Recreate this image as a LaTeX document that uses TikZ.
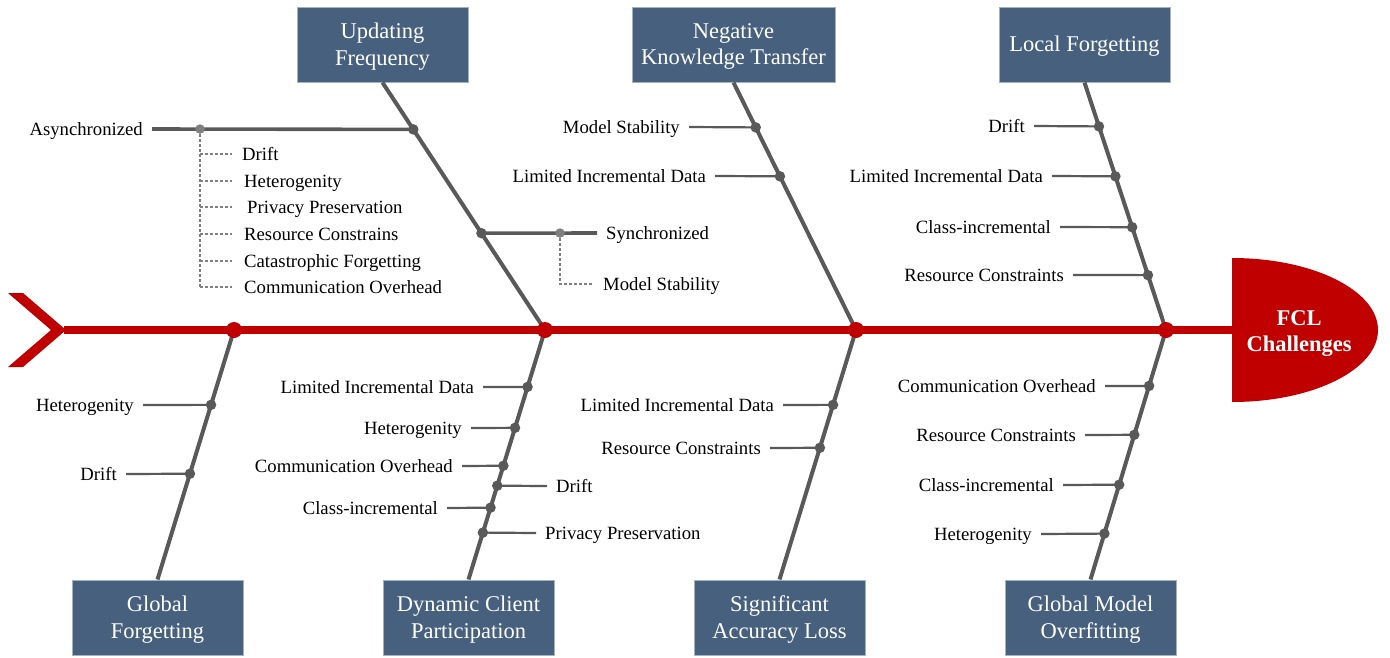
\documentclass[tikz,border=0pt]{standalone}
\usepackage{fontspec}
\setmainfont{Liberation Serif}
\usetikzlibrary{calc}
\definecolor{boxblue}{HTML}{46607E}
\definecolor{boxedge}{HTML}{A3B1C2}
\definecolor{bonegray}{HTML}{595959}
\definecolor{fclred}{HTML}{C00000}
\definecolor{lightdot}{HTML}{808080}
\tikzset{
  cat/.style={draw=boxedge, line width=1pt, fill=boxblue,
    minimum width=171pt, minimum height=75pt, inner sep=0pt,
    label={[boxtext]center:#1}},
  boxtext/.style={text=white, align=center, inner sep=0pt, yshift=-2pt,
    font=\fontsize{22.5}{26.5}\selectfont},
  bonel/.style={draw=bonegray, line width=4pt},
  twig/.style={draw=bonegray, line width=2.2pt},
  stem/.style={draw=bonegray, line width=3.6pt},
  gdot/.style={circle, fill=bonegray, inner sep=0pt, minimum size=10.5pt},
  ldot/.style={circle, fill=lightdot, inner sep=0pt, minimum size=9.5pt},
  rdot/.style={circle, fill=fclred, inner sep=0pt, minimum size=16pt},
  lab/.style={font=\fontsize{18.7}{22}\selectfont, inner xsep=9pt, inner ysep=0pt,
    text height=13pt, text depth=1pt, text=black},
  dsh/.style={draw=lightdot, line width=1.2pt, dash pattern=on 3pt off 2pt},
}
\begin{document}
\begin{tikzpicture}[x=1pt,y=-1pt]
\useasboundingbox (0,0) rectangle (1390,657);

% category boxes
\node[cat={Updating\\Frequency}] (uf)  at (382.5,44.5) {};
\node[cat={Negative\\Knowledge Transfer}, minimum width=203pt] (nkt) at (733.5,44.5) {};
\node[cat={Local Forgetting}] (lf)  at (1084.5,44.5) {};
\node[cat={Global\\Forgetting}] (gf)  at (157.5,617.5) {};
\node[cat={Dynamic Client\\Participation}] (dcp) at (468.5,617.5) {};
\node[cat={Significant\\Accuracy Loss}] (sal) at (779.5,617.5) {};
\node[cat={Global Model\\Overfitting}] (gmo) at (1090.5,617.5) {};

% spine points
\coordinate (s1) at (234,330);
\coordinate (s2) at (545,330);
\coordinate (s3) at (856,330);
\coordinate (s4) at (1166,330);
\coordinate (tailtip) at (64,330);
\coordinate (headw) at (1233,330);

% bones
\draw[bonel] (uf.south) -- (s2);
\draw[bonel] (nkt.south) -- (s3);
\draw[bonel] (lf.south) -- (s4);
\draw[bonel] (s1) -- (gf.north);
\draw[bonel] (s2) -- (dcp.north);
\draw[bonel] (s3) -- (sal.north);
\draw[bonel] (s4) -- (gmo.north);

% spine, tail, head
\draw[draw=fclred, line width=7.5pt] (tailtip) -- (headw);
\fill[fclred] (8,293) -- (23,293) -- (66,330) -- (23,367) -- (8,367) -- (51,330) -- cycle;
\fill[fclred] (1232,258) arc[start angle=-90, end angle=90, x radius=146, y radius=72] -- cycle;
\node[text=white, align=center, font=\bfseries\fontsize{22.5}{26}\selectfont] (head) at (1299,333.5) {FCL\\Challenges};
\foreach \s in {s1,s2,s3,s4} \node[rdot] (r\s) at (\s) {};

% ---------- Updating Frequency ----------
\coordinate (ua) at ($(uf.south)!{(129-82)/248}!(s2)$);
\coordinate (us) at ($(uf.south)!{(233-82)/248}!(s2)$);
\node[lab, anchor=east] (asy) at (152,129) {Asynchronized};
\draw[stem] (ua) -- (asy.east);
\node[ldot] (av) at (200,129) {};
\node[lab, anchor=west] (a1) at (233,154) {Drift};
\node[lab, anchor=west] (a2) at (235,181) {Heterogenity};
\node[lab, anchor=west] (a3) at (238,207) {Privacy Preservation};
\node[lab, anchor=west] (a4) at (235,234) {Resource Constrains};
\node[lab, anchor=west] (a5) at (235,261) {Catastrophic Forgetting};
\node[lab, anchor=west] (a6) at (235,287) {Communication Overhead};
\draw[dsh] (av) -- (av |- a6.west);
\foreach \a in {a1,a2,a3,a4,a5,a6} \draw[dsh] (av |- \a.west) -- ++(32,0);
\node[lab, anchor=west] (syn) at (597,233) {Synchronized};
\draw[stem] (us) -- (syn.west);
\node[ldot] (sv) at (560,233) {};
\node[lab, anchor=west] (sms) at (594,284) {Model Stability};
\draw[dsh] (sv) |- ($(sms.west)+(-1,0)$);
\node[gdot] at (ua) {};
\node[gdot] at (us) {};

% ---------- Negative Knowledge Transfer ----------
\coordinate (n1) at ($(nkt.south)!{(127-82)/248}!(s3)$);
\coordinate (n2) at ($(nkt.south)!{(176-82)/248}!(s3)$);
\node[lab, anchor=east] (nl1) at (689,127) {Model Stability};
\node[lab, anchor=east] (nl2) at (715,176) {Limited Incremental Data};
\draw[twig] (n1) -- (nl1.east);
\draw[twig] (n2) -- (nl2.east);
\node[gdot] at (n1) {};
\node[gdot] at (n2) {};

% ---------- Local Forgetting ----------
\coordinate (l1) at ($(lf.south)!{(126-82)/248}!(s4)$);
\coordinate (l2) at ($(lf.south)!{(176-82)/248}!(s4)$);
\coordinate (l3) at ($(lf.south)!{(227-82)/248}!(s4)$);
\coordinate (l4) at ($(lf.south)!{(275-82)/248}!(s4)$);
\node[lab, anchor=east] (ll1) at (1034,126) {Drift};
\node[lab, anchor=east] (ll2) at (1052,176) {Limited Incremental Data};
\node[lab, anchor=east] (ll3) at (1060,227) {Class-incremental};
\node[lab, anchor=east] (ll4) at (1073,275) {Resource Constraints};
\foreach \i in {1,2,3,4} {\draw[twig] (l\i) -- (ll\i.east); \node[gdot] at (l\i) {};}

% ---------- Global Forgetting ----------
\coordinate (g1) at ($(s1)!{(405-330)/250}!(gf.north)$);
\coordinate (g2) at ($(s1)!{(474-330)/250}!(gf.north)$);
\node[lab, anchor=east] (gl1) at (143,405) {Heterogenity};
\node[lab, anchor=east] (gl2) at (126,474) {Drift};
\foreach \i in {1,2} {\draw[twig] (g\i) -- (gl\i.east); \node[gdot] at (g\i) {};}

% ---------- Dynamic Client Participation ----------
\coordinate (d1) at ($(s2)!{(387-330)/250}!(dcp.north)$);
\coordinate (d2) at ($(s2)!{(428-330)/250}!(dcp.north)$);
\coordinate (d3) at ($(s2)!{(466-330)/250}!(dcp.north)$);
\coordinate (d4) at ($(s2)!{(486-330)/250}!(dcp.north)$);
\coordinate (d5) at ($(s2)!{(508-330)/250}!(dcp.north)$);
\coordinate (d6) at ($(s2)!{(533-330)/250}!(dcp.north)$);
\node[lab, anchor=east] (dl1) at (483,387) {Limited Incremental Data};
\node[lab, anchor=east] (dl2) at (471,428) {Heterogenity};
\node[lab, anchor=east] (dl3) at (462,466) {Communication Overhead};
\node[lab, anchor=west] (dl4) at (547,486) {Drift};
\node[lab, anchor=east] (dl5) at (447,508) {Class-incremental};
\node[lab, anchor=west] (dl6) at (536,533) {Privacy Preservation};
\foreach \i in {1,2,3,5} {\draw[twig] (d\i) -- (dl\i.east);}
\foreach \i in {4,6} {\draw[twig] (d\i) -- (dl\i.west);}
\foreach \i in {1,...,6} {\node[gdot] at (d\i) {};}

% ---------- Significant Accuracy Loss ----------
\coordinate (q1) at ($(s3)!{(405-330)/250}!(sal.north)$);
\coordinate (q2) at ($(s3)!{(448-330)/250}!(sal.north)$);
\node[lab, anchor=east] (ql1) at (783,405) {Limited Incremental Data};
\node[lab, anchor=east] (ql2) at (770,448) {Resource Constraints};
\foreach \i in {1,2} {\draw[twig] (q\i) -- (ql\i.east); \node[gdot] at (q\i) {};}

% ---------- Global Model Overfitting ----------
\coordinate (m1) at ($(s4)!{(386-330)/250}!(gmo.north)$);
\coordinate (m2) at ($(s4)!{(435-330)/250}!(gmo.north)$);
\coordinate (m3) at ($(s4)!{(485-330)/250}!(gmo.north)$);
\coordinate (m4) at ($(s4)!{(534-330)/250}!(gmo.north)$);
\node[lab, anchor=east] (ml1) at (1105,386) {Communication Overhead};
\node[lab, anchor=east] (ml2) at (1085,435) {Resource Constraints};
\node[lab, anchor=east] (ml3) at (1063,485) {Class-incremental};
\node[lab, anchor=east] (ml4) at (1041,534) {Heterogenity};
\foreach \i in {1,2,3,4} {\draw[twig] (m\i) -- (ml\i.east); \node[gdot] at (m\i) {};}
\end{tikzpicture}
\end{document}
